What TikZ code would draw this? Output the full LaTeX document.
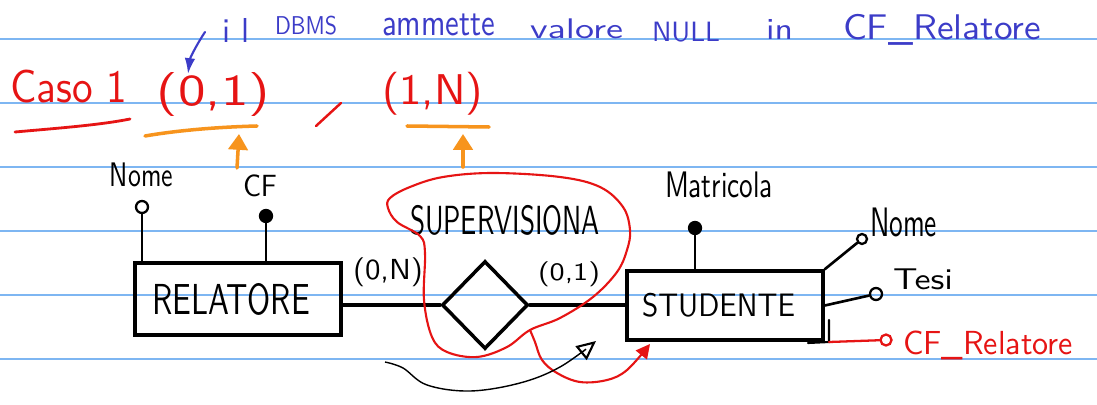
\documentclass[tikz,border=0pt]{standalone}
\usepackage{graphicx}
\usetikzlibrary{arrows.meta,shapes.geometric,calc}
\newlength\px \setlength\px{0.02cm}
\newcommand\hw[3]{\resizebox*{#1\px}{#2\px}{#3}}
\definecolor{penred}{HTML}{E61414}
\definecolor{penorange}{HTML}{F7941D}
\definecolor{penblue}{HTML}{3C3CC8}
\definecolor{ruleblue}{HTML}{7EB6F2}
\begin{document}
\begin{tikzpicture}[x=0.02cm,y=-0.02cm,
  ruled/.style={ruleblue,line width=1.1pt},
  txt/.style={inner sep=0pt,outer sep=0pt,font=\sffamily},
  entity/.style={draw,rectangle,line width=2pt,inner sep=0pt},
  rel/.style={draw,diamond,line width=2pt,inner sep=0pt},
  attr/.style={draw,circle,line width=1.3pt,minimum size=0.24cm,inner sep=0pt},
  keyattr/.style={attr,fill=black},
  blk/.style={black,line width=1.5pt,line cap=round},
  redpen/.style={penred,line width=1.3pt,line cap=round,line join=round},
  orangepen/.style={penorange,line width=2pt,line cap=round},
  bluepen/.style={penblue,line width=1.2pt,line cap=round}]
\fill[white] (0,0) rectangle (1097,405);
\useasboundingbox (0,0) rectangle (1097,405);
\foreach \yy in {39,103,167,231,295,359} \draw[ruled] (0,\yy) -- (1097,\yy);

% blue note
\begin{scope}[penblue]
\node[txt] (w1) at (236,31) {\hw{28}{24}{i\hspace{0.35em}l}};
\node[txt] (w2) at (306,26) {\hw{62}{19}{DBMS}};
\node[txt] (w3) at (438.5,24.5) {\hw{113}{22}{ammette}};
\node[txt] (w4) at (576.5,29) {\hw{93}{20}{valore}};
\node[txt] (w5) at (686,32) {\hw{68}{20}{NULL}};
\node[txt] (w6) at (779.5,30) {\hw{27}{20}{in}};
\node[txt] (w7) at (942,29.5) {\hw{198}{31}{CF\_Relatore}};
\end{scope}
\coordinate (bs) at (205,32);
\coordinate (be) at (188,74);
\draw[bluepen,-{Latex[length=9pt,width=6pt]}] (bs) .. controls (197,44) and (190,58) .. (be);

% red case line
\begin{scope}[penred]
\node[txt] (caso) at (68.5,86.5) {\hw{117}{33}{Caso 1}};
\node[txt] (c01) at (213.5,95) {\hw{113}{44}{(0,1)}};
\node[txt] (c1n) at (432.5,93.5) {\hw{101}{43}{(1,N)}};
\end{scope}
\draw[redpen,line width=1.6pt] (15,132) .. controls (60,128) and (100,125) .. (130,119);
\draw[redpen,line width=1.4pt] (316,126) -- (341,103);
\draw[orangepen] (145,136) .. controls (180,130) and (220,127) .. (257,126);
\draw[orangepen] (407,126) -- (489,127);
\coordinate (o1s) at (237,168); \coordinate (o1e) at (239,134);
\coordinate (o2s) at (463,167); \coordinate (o2e) at (463,134);
\draw[orangepen,-{Triangle[length=9pt,width=11pt]}] (o1s) -- (o1e);
\draw[orangepen,-{Triangle[length=9pt,width=11pt]}] (o2s) -- (o2e);

% ER diagram
\node[entity,minimum width=4.12cm,minimum height=1.44cm] (rel) at (238,299) {};
\node[txt] (reltxt) at (231,299) {\hw{158}{32}{RELATORE}};
\node[entity,minimum width=3.92cm,minimum height=1.38cm] (stu) at (725,305.5) {};
\node[txt] (stutxt) at (718.5,305) {\hw{153}{24}{STUDENTE}};
\node[rel,minimum width=1.72cm,minimum height=1.76cm] (sup) at (485,305) {};
\node[txt] (suptxt) at (505,220) {\hw{190}{30}{SUPERVISIONA}};
\node[txt] (cardL) at (388,272.5) {\hw{70}{29}{(0,N)}};
\node[txt] (cardR) at (569,274.5) {\hw{62}{25}{(0,1)}};

\draw[blk,line width=2pt] (rel.east |- sup.west) -- (sup.west);
\draw[blk,line width=2pt] (sup.east) -- (stu.west |- sup.east);

\node[attr] (nomeL) at (142,207) {};
\node[txt] (nomeLt) at (141.5,175) {\hw{63}{24}{Nome}};
\node[keyattr] (cfL) at (266,216) {};
\node[txt] (cfLt) at (260,186) {\hw{34}{22}{CF}};
\draw[blk] (nomeL) -- (nomeL |- rel.north);
\draw[blk] (cfL) -- (cfL |- rel.north);

\node[keyattr] (matr) at (695,228) {};
\node[txt] (matrt) at (719,185) {\hw{108}{26}{Matricola}};
\draw[blk] (matr) -- (matr |- stu.north);
\node[attr,minimum size=0.2cm] (nomeR) at (862,239) {};
\node[txt] (nomeRt) at (903.5,222.5) {\hw{67}{29}{Nome}};
\draw[blk] (stu.north east) -- (nomeR);
\node[attr] (tesi) at (876,294) {};
\node[txt] (tesit) at (923,279.5) {\hw{60}{21}{Tesi}};
\draw[blk] (stu.east) -- (tesi);

\coordinate (brkT) at (829,320);
\coordinate (brk) at (829,342);
\coordinate (brkL) at (808,343);
\draw[blk,line width=1.2pt] (brkT) -- (brk) -- (brkL);
\node[attr,draw=penred,minimum size=0.22cm] (cfR) at (886,340) {};
\draw[redpen] (brk) -- (cfR);
\node[txt,penred] (cfRt) at (988,345) {\hw{170}{29}{CF\_Relatore}};

% red loop around the relationship
\draw[redpen,line width=1.2pt] plot[smooth cycle,tension=0.6] coordinates {
 (390,198) (410,187) (443,177) (493,173) (560,177) (600,187) (623,207)
 (630,230) (627,250) (617,272) (593,297) (560,318) (530,330) (507,347)
 (477,357) (447,352) (432,337) (424,300) (425,253) (420,236) (397,222) (388,208)};
\coordinate (lb) at (530,330);
\coordinate (lt) at (650,344);
\draw[redpen,line width=1.2pt,-{Triangle[length=8pt,width=8pt]}] plot[smooth,tension=0.6] coordinates {
 (lb) (535,342) (542,360) (557,373) (580,382) (607,380) (627,370) (lt)};

% black curved arrow
\coordinate (cs) at (385,362);
\coordinate (ce) at (596,341);
\draw[black,line width=0.8pt,-{Triangle[open,length=11pt,width=10pt,line width=1.2pt]}] plot[smooth,tension=0.6] coordinates {
 (cs) (403,368) (427,385) (470,391) (520,383) (560,367) (ce)};
\end{tikzpicture}
\end{document}
